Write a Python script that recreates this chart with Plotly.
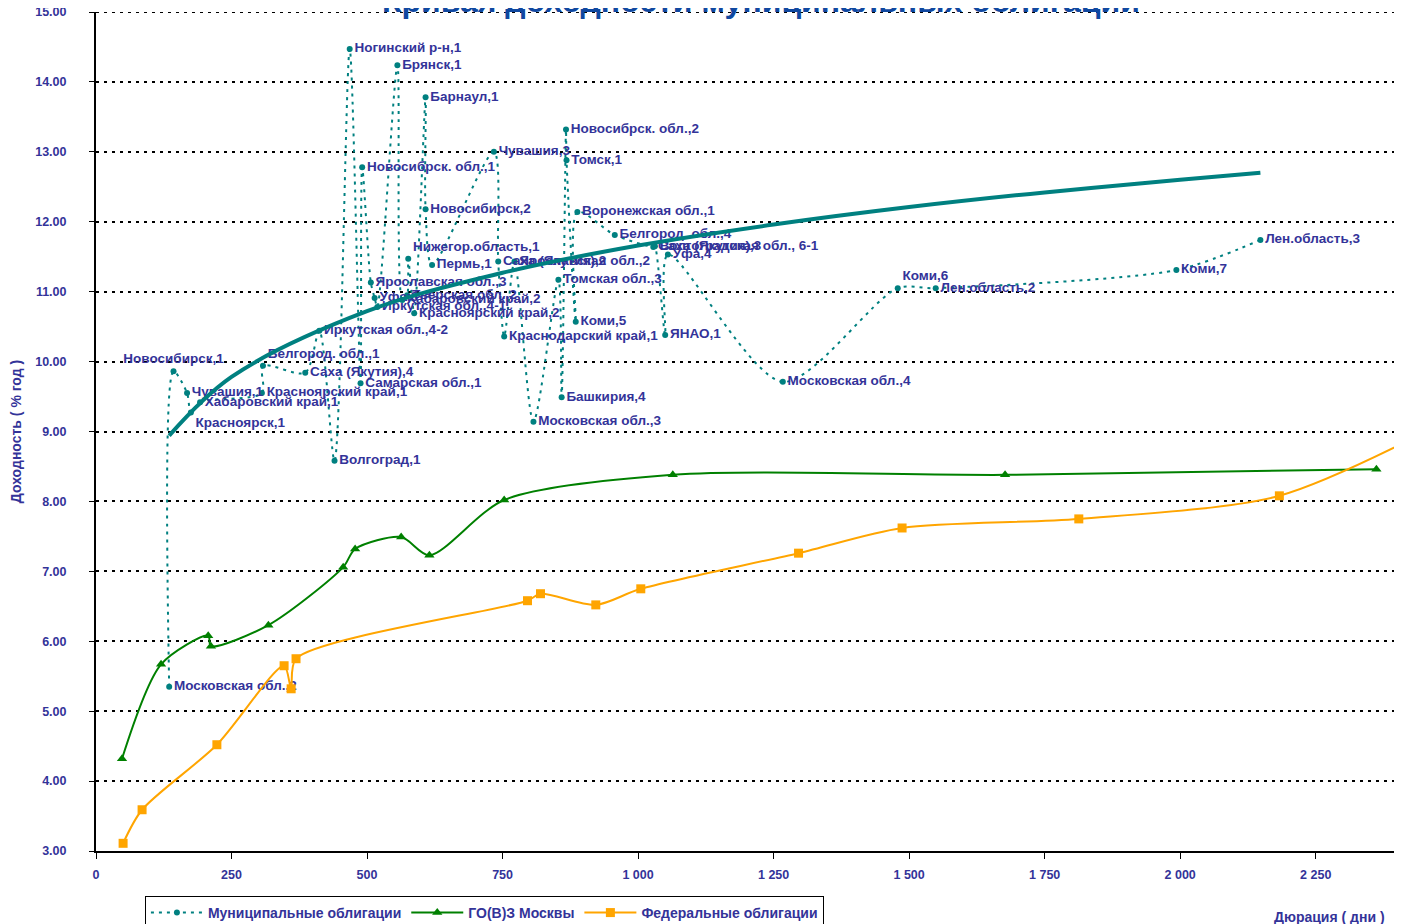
import plotly.graph_objects as go

# Муниципальные облигации: дюрация (дни), доходность (% год), подпись
muni_x = [135, 143, 168, 175, 192, 306, 308, 386, 412, 440, 468, 488, 491, 507, 514,
          519, 556, 565, 574, 576, 587, 608, 608, 620, 734, 742, 753, 772, 807, 853,
          859, 867, 868, 885, 888, 957, 1028, 1031, 1050, 1055, 1267, 1479, 1549, 1993, 2148]
muni_y = [5.35, 9.86, 9.55, 9.27, 9.42, 9.55, 9.94, 9.84, 10.44, 8.58, 14.47, 9.69, 12.78, 11.13, 10.91,
          10.78, 14.24, 10.88, 10.95, 11.47, 10.69, 13.78, 12.18, 11.38, 13.0, 11.43, 10.36, 11.43, 9.14, 11.17,
          9.49, 13.32, 12.88, 10.57, 12.14, 11.81, 11.64, 11.65, 10.38, 11.53, 9.71, 11.05, 11.05, 11.31, 11.74]
muni_labels = ["Московская обл.,2", "Новосибирск,1", "Чувашия,1", "Красноярск,1", "Хабаровский край,1",
               "Красноярский край,1", "Белгород. обл.,1", "Саха (Якутия),4", "Иркутская обл.,4-2", "Волгоград,1",
               "Ногинский р-н,1", "Самарская обл.,1", "Новосибрск. обл.,1", "Ярославская обл.,3", "Уфа,3",
               "Иркутская обл.,4-1", "Брянск,1", "Хабаровский край,2", "Тверская обл.,2", "Нижегор.область,1",
               "Красноярский край,2", "Барнаул,1", "Новосибирск,2", "Пермь,1", "Чувашия,3",
               "Саха (Якутия),2", "Краснодарский край,1", "Ярославская обл.,2", "Московская обл.,3", "Томская обл.,3",
               "Башкирия,4", "Новосибрск. обл.,2", "Томск,1", "Коми,5", "Воронежская обл.,1",
               "Белгород. обл.,4", "Саха (Якутия),3", "Волгоградская обл., 6-1", "ЯНАО,1", "Уфа,4",
               "Московская обл.,4", "Коми,6", "Лен.область,2", "Коми,7", "Лен.область,3"]
muni_textpos = ["middle right", "top center", "middle right", "bottom right", "middle right",
                "middle right", "top right", "middle right", "middle right", "middle right",
                "middle right", "middle right", "middle right", "middle right", "middle right",
                "middle right", "middle right", "middle right", "middle right", "top right",
                "middle right", "middle right", "middle right", "middle right", "middle right",
                "middle right", "middle right", "middle right", "middle right", "middle right",
                "middle right", "middle right", "middle right", "middle right", "middle right",
                "middle right", "middle right", "middle right", "middle right", "middle right",
                "middle right", "top right", "middle right", "middle right", "middle right"]

# логарифмический тренд
trend_x = [135, 250, 500, 750, 1000, 1250, 1500, 1750, 2000, 2148]
trend_y = [8.94, 9.78, 10.72, 11.27, 11.66, 11.96, 12.21, 12.42, 12.60, 12.70]

# ГО(В)З Москвы
moscow_x = [48, 120, 207, 212, 318, 456, 478, 563, 615, 753, 1064, 1677, 2362]
moscow_y = [4.32, 5.67, 6.08, 5.93, 6.23, 7.06, 7.32, 7.49, 7.23, 8.02, 8.38, 8.38, 8.46]

# Федеральные облигации
fed_x = [50, 85, 223, 347, 360, 369, 796, 820, 922, 1005, 1296, 1487, 1813, 2183, 2480]
fed_y = [3.11, 3.59, 4.52, 5.65, 5.32, 5.75, 6.58, 6.68, 6.52, 6.75, 7.26, 7.62, 7.75, 8.08, 9.10]

LABEL = "#333399"
FONT = "Liberation Sans"

fig = go.Figure()

fig.add_trace(go.Scatter(
    x=muni_x, y=muni_y, text=muni_labels, textposition=muni_textpos,
    mode="lines+markers+text", name="Муниципальные облигации",
    line=dict(color="#008080", width=2, dash="3px,5px", shape="spline", smoothing=0.8),
    marker=dict(color="#008080", size=6),
    textfont=dict(family=FONT, size=13.5, color=LABEL, weight="bold"),
))
fig.add_trace(go.Scatter(
    x=trend_x, y=trend_y, mode="lines", showlegend=False, hoverinfo="skip",
    line=dict(color="#008080", width=4, shape="spline"),
))
fig.add_trace(go.Scatter(
    x=moscow_x, y=moscow_y, mode="lines+markers", name="ГО(В)З Москвы",
    line=dict(color="#008000", width=2, shape="spline", smoothing=0.8),
    marker=dict(color="#008000", size=9, symbol="triangle-up"),
))
fig.add_trace(go.Scatter(
    x=fed_x, y=fed_y, mode="lines+markers", name="Федеральные облигации",
    line=dict(color="#FFA500", width=2, shape="spline", smoothing=0.8),
    marker=dict(color="#FFA500", size=9, symbol="square"),
))

tickfont = dict(family=FONT, size=12.5, color=LABEL, weight="bold")

# the page body adds an 8px offset, so the figure is 8px smaller and margins shifted
fig.update_layout(
    width=1394, height=916,
    margin=dict(l=88, r=5, t=4, b=73, autoexpand=False),
    paper_bgcolor="white", plot_bgcolor="white",
    separators=". ",
    font=dict(family=FONT, color=LABEL),
    xaxis=dict(
        range=[0, 2400], tick0=0, dtick=250, tickformat=",d",
        showgrid=False, zeroline=False, automargin=False,
        showline=True, linecolor="black", linewidth=2,
        ticks="outside", ticklen=6, tickcolor="black", tickwidth=1,
        tickfont=tickfont, ticklabelstandoff=5, ticklabeloverflow="allow",
    ),
    yaxis=dict(
        range=[3, 15], dtick=1, tickformat=".2f",
        showgrid=True, gridcolor="black", gridwidth=2, griddash="3px,5px",
        zeroline=False, automargin=False,
        showline=True, mirror=True, linecolor="black", linewidth=2,
        ticks="outside", ticklen=5, tickcolor="black", tickwidth=1,
        tickfont=tickfont, ticklabelstandoff=20, ticklabeloverflow="allow",
        title=dict(text="Доходность ( % год )", standoff=12,
                   font=dict(family=FONT, size=14, color=LABEL, weight="bold")),
    ),
    legend=dict(
        orientation="h", x=0.0376, y=-0.0536, xanchor="left", yanchor="top",
        bordercolor="black", borderwidth=1, bgcolor="white",
        font=dict(family=FONT, size=14, color=LABEL, weight="bold"),
        itemwidth=52, tracegroupgap=0,
    ),
    shapes=[
        # dotted gridline along the top edge of the plot
        dict(type="line", xref="paper", yref="y", x0=0, x1=1, y0=15, y1=15,
             line=dict(color="black", width=2, dash="3px,5px"), layer="above"),
    ],
    annotations=[
        dict(text="Кривая доходности муниципальных облигаций", xref="paper", yref="paper",
             x=0.5115, y=1.0135, xanchor="center", yanchor="middle", showarrow=False,
             font=dict(family=FONT, size=32, color="#1048A0", weight="bold")),
        dict(text="Дюрация ( дни )", xref="paper", yref="paper",
             x=1.0, y=-0.067, xanchor="right", yanchor="top", showarrow=False,
             xshift=-10,
             font=dict(family=FONT, size=14, color=LABEL, weight="bold")),
    ],
)

fig.write_html("out.html")
